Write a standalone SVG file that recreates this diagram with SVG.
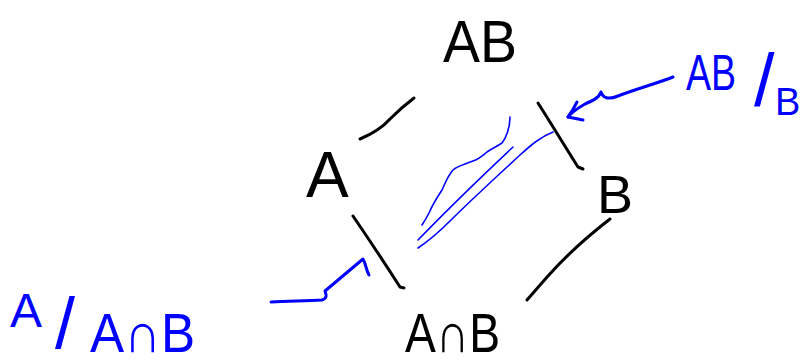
<svg xmlns="http://www.w3.org/2000/svg" width="800" height="364" viewBox="0 0 800 364">
<style>
.k{fill:#000;font-family:"Liberation Sans",Arial,sans-serif}
.b{fill:#0000ff;font-family:"Liberation Sans",Arial,sans-serif}
.ks{fill:none;stroke:#000;stroke-width:3;stroke-linecap:round;stroke-linejoin:round}
.bs{fill:none;stroke:#0000ff;stroke-width:3;stroke-linecap:round;stroke-linejoin:round}
.bt{fill:none;stroke:#0000ff;stroke-width:1.6;stroke-linecap:round;stroke-linejoin:round}
</style>
<rect width="800" height="364" fill="#fff"/>
<g id="node-AB"><text class="k" x="443" y="62" font-size="60" textLength="74" lengthAdjust="spacingAndGlyphs">AB</text></g>
<g id="node-A"><text class="k" x="306" y="197" font-size="64">A</text></g>
<g id="node-B"><text class="k" x="597" y="213" font-size="54">B</text></g>
<g id="node-AnB"><text class="k" x="405" y="352" font-size="56" textLength="95" lengthAdjust="spacingAndGlyphs">A∩B</text></g>
<g id="label-AB-B"><text class="b"><tspan x="686" y="90" font-size="50" textLength="50" lengthAdjust="spacingAndGlyphs">AB</tspan><tspan x="754" y="106" font-size="74">/</tspan><tspan x="775" y="115" font-size="38">B</tspan></text></g>
<g id="label-A-AnB"><text class="b"><tspan x="10" y="327" font-size="48">A</tspan><tspan x="55" y="348" font-size="72">/</tspan><tspan x="90" y="352" font-size="56" textLength="105" lengthAdjust="spacingAndGlyphs">A∩B</tspan></text></g>
<g id="connectors">
<path class="ks" d="M360,139 C372,134 382,128 390,119 C398,111 406,104 414,98"/>
<path class="ks" d="M538,103 C552,125 566,148 578,167 L583,169"/>
<path class="ks" d="M353,216 C368,238 384,262 400,287 L404,288"/>
<path class="ks" d="M610,219 C588,236 564,258 548,276 C540,285 534,292 527,300"/>
<path class="bs" d="M673,77 C655,84 636,89 618,96 C608,100 603,98 601,92 C599,98 592,101 585,104 C578,108 572,112 568,117"/>
<path class="bs" d="M577,102 C574,108 571,113 568,117 C573,118 578,119 583,120"/>
<path class="bs" d="M271,302 C290,301 306,301 322,300 C328,298 326,294 325,291 C337,281 350,270 363,259 C366,264 366,270 369,275"/>
<path class="bt" d="M510,117 C510,128 506,138 502,143 C496,147 491,149 487,152 C482,156 479,159 473,161 C463,165 457,166 453,170 C447,177 445,184 442,190 C436,199 432,206 429,213 C426,219 424,222 422,225"/>
<path class="bt" d="M513,147 C480,178 448,209 418,240"/>
<path class="bt" d="M553,132 C540,137 530,146 520,155 C495,178 470,201 450,221 C440,231 430,240 418,248"/>
</g>
</svg>
